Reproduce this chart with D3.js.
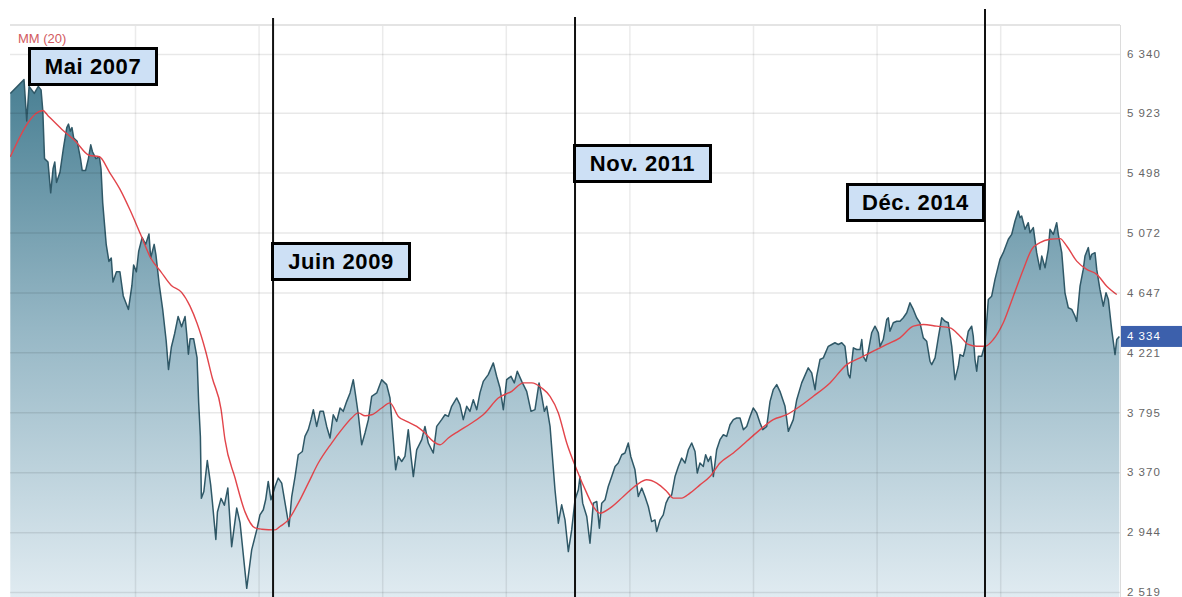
<!DOCTYPE html>
<html><head><meta charset="utf-8">
<script src="https://cdn.jsdelivr.net/npm/d3@7"></script>
<style>html,body{margin:0;padding:0;background:#fff;overflow:hidden}</style>
</head><body><svg id="c" width="1182" height="597"></svg>
<script>
// ---- DATA ----
const years = [
2006.991,2007.102,2007.124,2007.143,2007.185,2007.218,2007.240,2007.254,2007.268,2007.296,
2007.318,2007.337,2007.351,2007.365,2007.393,2007.421,2007.448,2007.462,2007.476,2007.490,
2007.504,2007.532,2007.559,2007.573,2007.600,2007.623,2007.642,2007.656,2007.684,2007.712,
2007.725,2007.739,2007.767,2007.789,2007.808,2007.822,2007.850,2007.878,2007.905,2007.947,
2007.975,2007.989,2008.011,2008.030,2008.058,2008.086,2008.113,2008.127,2008.155,2008.169,
2008.197,2008.224,2008.252,2008.271,2008.294,2008.321,2008.349,2008.377,2008.405,2008.418,
2008.432,2008.446,2008.474,2008.502,2008.515,2008.529,2008.537,2008.557,2008.585,2008.612,
2008.626,2008.654,2008.667,2008.696,2008.723,2008.751,2008.782,2008.823,2008.850,2008.904,
2008.944,2008.985,2009.011,2009.038,2009.057,2009.078,2009.100,2009.133,2009.159,2009.187,
2009.219,2009.246,2009.268,2009.295,2009.321,2009.354,2009.375,2009.402,2009.424,2009.443,
2009.470,2009.497,2009.524,2009.551,2009.578,2009.604,2009.632,2009.659,2009.685,2009.713,
2009.740,2009.766,2009.786,2009.807,2009.834,2009.861,2009.888,2009.915,2009.956,2009.996,
2010.036,2010.063,2010.090,2010.109,2010.130,2010.158,2010.184,2010.211,2010.233,2010.252,
2010.279,2010.320,2010.346,2010.373,2010.413,2010.441,2010.481,2010.508,2010.535,2010.562,
2010.603,2010.629,2010.656,2010.684,2010.710,2010.737,2010.765,2010.791,2010.818,2010.858,
2010.899,2010.926,2010.953,2010.980,2011.007,2011.042,2011.069,2011.093,2011.129,2011.169,
2011.204,2011.236,2011.269,2011.291,2011.312,2011.331,2011.358,2011.398,2011.425,2011.452,
2011.479,2011.506,2011.533,2011.560,2011.587,2011.600,2011.622,2011.655,2011.681,2011.708,
2011.736,2011.757,2011.776,2011.803,2011.829,2011.857,2011.884,2011.910,2011.938,2011.964,
2011.991,2012.011,2012.045,2012.072,2012.100,2012.126,2012.153,2012.180,2012.207,2012.221,
2012.248,2012.274,2012.296,2012.315,2012.342,2012.369,2012.396,2012.423,2012.450,2012.477,
2012.504,2012.531,2012.549,2012.571,2012.598,2012.617,2012.638,2012.658,2012.679,2012.706,
2012.733,2012.760,2012.787,2012.814,2012.841,2012.868,2012.895,2012.922,2012.949,2012.976,
2013.002,2013.030,2013.057,2013.079,2013.111,2013.138,2013.164,2013.192,2013.218,2013.259,
2013.286,2013.326,2013.354,2013.394,2013.447,2013.475,2013.502,2013.515,2013.542,2013.569,
2013.609,2013.637,2013.663,2013.690,2013.718,2013.744,2013.771,2013.785,2013.812,2013.839,
2013.866,2013.880,2013.892,2013.914,2013.933,2013.960,2013.987,2014.014,2014.028,2014.054,
2014.082,2014.095,2014.108,2014.135,2014.163,2014.189,2014.216,2014.244,2014.270,2014.297,
2014.324,2014.351,2014.378,2014.405,2014.432,2014.446,2014.473,2014.499,2014.527,2014.553,
2014.580,2014.608,2014.621,2014.634,2014.661,2014.675,2014.701,2014.715,2014.742,2014.769,
2014.782,2014.796,2014.810,2014.823,2014.850,2014.877,2014.904,2014.931,2014.958,2014.998,
2015.025,2015.066,2015.093,2015.120,2015.146,2015.160,2015.174,2015.201,2015.227,2015.241,
2015.268,2015.295,2015.322,2015.336,2015.363,2015.389,2015.403,2015.430,2015.457,2015.470,
2015.498,2015.524,2015.551,2015.579,2015.605,2015.619,2015.646,2015.672,2015.686,2015.713,
2015.727,2015.740,2015.767,2015.781,2015.807,2015.834,2015.856,2015.875,2015.902,2015.929,
2015.943,2015.964
];
const closes = [
6060,6158,5865,6110,6060,6110,6085,5939,5597,5573,
5354,5525,5573,5427,5500,5671,5817,5842,5792,5817,
5744,5720,5597,5512,5512,5597,5695,5646,5597,5610,
5525,5281,4988,4867,4891,4720,4793,4793,4622,4526,
4696,4842,4793,4940,5037,4988,5061,4891,4988,4915,
4696,4526,4305,4099,4257,4355,4476,4403,4476,4355,
4208,4318,4318,4184,3867,3623,3184,3233,3453,3282,
3159,2892,3087,3184,3135,3258,2841,3115,3010,2545,
2818,2960,3067,3103,3174,3304,3174,3268,3328,3292,
3126,2984,3197,3339,3494,3517,3624,3672,3743,3814,
3695,3802,3802,3695,3613,3778,3731,3826,3802,3873,
3933,4027,3909,3778,3565,3648,3743,3909,3933,4027,
3992,3897,3601,3387,3482,3446,3482,3672,3482,3339,
3529,3601,3695,3577,3506,3695,3743,3778,3766,3838,
3897,3850,3743,3838,3802,3885,3814,3933,4015,4063,
4146,4051,3968,3814,4027,4051,4004,4087,4015,3944,
3802,3814,4004,3909,3802,3838,3695,3245,3008,3138,
3031,2806,2960,3174,3245,3339,3150,3055,2866,3150,
3162,2972,3150,3174,3268,3339,3411,3435,3494,3506,
3577,3482,3387,3197,3257,3197,3126,3019,3031,2948,
3031,3067,3150,3186,3209,3339,3411,3470,3435,3529,
3577,3517,3364,3435,3411,3494,3446,3482,3339,3529,
3601,3636,3624,3707,3743,3755,3755,3672,3695,3766,
3826,3791,3719,3672,3695,3873,3956,3992,3944,3838,
3660,3743,3885,4004,4111,4075,3956,4051,4170,4182,
4264,4277,4289,4277,4289,4264,4063,4040,4253,4241,
4241,4312,4193,4158,4229,4360,4407,4360,4264,4312,
4454,4467,4371,4431,4442,4442,4467,4502,4573,4526,
4467,4431,4324,4300,4158,4134,4182,4324,4467,4442,
4431,4264,4146,4027,4122,4205,4193,4241,4371,4407,
4336,4170,4087,4193,4193,4277,4597,4620,4739,4881,
4929,5024,5059,5154,5225,5178,5189,5095,5142,5071,
5107,4929,4810,4905,4822,4953,5095,5059,5142,5059,
4929,4644,4538,4526,4478,4442,4691,4810,4905,4965,
4881,4917,4929,4810,4668,4549,4644,4597,4383,4205,
4312,4334
];
const maYears = [
2006.991,2007.254,2007.296,2007.407,2007.518,2007.628,2007.712,2007.794,2007.879,2007.960,
2008.044,2008.127,2008.210,2008.294,2008.377,2008.445,2008.502,2008.570,2008.626,2008.696,
2008.728,2008.809,2008.890,2008.971,2009.025,2009.133,2009.173,2009.240,2009.321,2009.402,
2009.483,2009.591,2009.672,2009.753,2009.807,2009.861,2009.915,2009.996,2010.063,2010.130,
2010.198,2010.279,2010.346,2010.413,2010.468,2010.535,2010.616,2010.724,2010.832,2010.939,
2011.048,2011.142,2011.210,2011.291,2011.358,2011.425,2011.493,2011.574,2011.655,2011.708,
2011.762,2011.843,2011.951,2012.059,2012.140,2012.221,2012.302,2012.355,2012.423,2012.490,
2012.571,2012.652,2012.733,2012.841,2012.949,2013.057,2013.164,2013.273,2013.380,2013.488,
2013.623,2013.758,2013.866,2013.973,2014.082,2014.189,2014.297,2014.378,2014.486,2014.594,
2014.675,2014.742,2014.810,2014.877,2014.944,2015.025,2015.106,2015.187,2015.255,2015.322,
2015.403,2015.484,2015.538,2015.619,2015.700,2015.781,2015.862,2015.943
];
const maValues = [
5610,5939,5902,5806,5721,5621,5610,5500,5379,5232,
5061,4891,4793,4696,4647,4549,4427,4234,4037,3818,
3601,3330,3088,2974,2965,2960,2984,3031,3150,3292,
3435,3577,3672,3755,3791,3771,3778,3826,3862,3766,
3731,3695,3648,3589,3565,3613,3660,3719,3791,3897,
3944,4004,4004,3968,3909,3791,3577,3387,3221,3126,
3079,3115,3197,3280,3316,3292,3233,3186,3186,3221,
3280,3339,3435,3506,3589,3672,3743,3778,3838,3909,
4004,4134,4182,4229,4277,4324,4407,4419,4407,4395,
4336,4277,4264,4264,4312,4431,4620,4810,4953,5000,
5024,5029,4976,4869,4810,4775,4691,4632
];
const yTicks = [2519, 2944, 3370, 3795, 4221, 4647, 5072, 5498, 5923, 6340];
const yTickLabels = ["2 519","2 944","3 370","3 795","4 221","4 647","5 072","5 498","5 923","6 340"];
const gridYears = [2008, 2009, 2010, 2011, 2012, 2013, 2014, 2015];
const lastValue = 4334;
const lastLabel = "4 334";
const legendLabel = "MM (20)";
const annotationLabels = ["Mai 2007", "Juin 2009", "Nov. 2011", "Déc. 2014"];
const annotationYears = [null, 2009.117, 2011.560, 2014.877];

// ---- LAYOUT ----
const P = {left: 10, right: 1120, top: 25, bottom: 597};
const boxes = [
  {x: 28, y: 47, w: 130, h: 39},
  {x: 271, y: 242, w: 140, h: 39},
  {x: 573, y: 144, w: 139, h: 39},
  {x: 846, y: 183, w: 139, h: 39}
];
const lineTops = [null, 18, 17, 9];

const x = d3.scaleLinear().domain([2007, 2016]).range([11.4, 1123.8]);
const y = d3.scaleLinear().domain([2519, 6340]).range([592, 54]);

const svg = d3.select('#c');
svg.append('rect').attr('width', 1182).attr('height', 597).attr('fill', '#fff');
const defs = svg.append('defs');
defs.append('clipPath').attr('id', 'clip').append('rect')
  .attr('x', P.left).attr('y', P.top).attr('width', P.right - P.left).attr('height', P.bottom - P.top);
const g = defs.append('linearGradient').attr('id', 'fillg')
  .attr('gradientUnits', 'userSpaceOnUse').attr('x1', 0).attr('x2', 0).attr('y1', 60).attr('y2', 597);
g.append('stop').attr('offset', 0).attr('stop-color', '#437b8f');
g.append('stop').attr('offset', 0.5).attr('stop-color', '#96b7c5');
g.append('stop').attr('offset', 1).attr('stop-color', '#e0ebf1');

const series = years.map((t, i) => ({t, v: closes[i]}));
const maSeries = maYears.map((t, i) => ({t, v: maValues[i]}));

const plot = svg.append('g').attr('clip-path', 'url(#clip)');
plot.append('path').datum(series)
  .attr('d', d3.area().x(d => x(d.t)).y0(P.bottom).y1(d => y(d.v)))
  .attr('fill', 'url(#fillg)');

// grid
const hg = svg.append('g').attr('transform', `translate(${P.left},0)`)
  .call(d3.axisLeft(y).tickValues(yTicks).tickSize(-(P.right - P.left)).tickFormat(''));
hg.select('.domain').remove();
hg.selectAll('line').attr('stroke', '#000').attr('stroke-opacity', 0.09).attr('stroke-width', 1.5);
const vg = svg.append('g').attr('transform', `translate(0,${P.bottom})`)
  .call(d3.axisBottom(x).tickValues(gridYears).tickSize(-(P.bottom - P.top)).tickFormat(''));
vg.select('.domain').remove();
vg.selectAll('line').attr('stroke', '#000').attr('stroke-opacity', 0.08).attr('stroke-width', 1.5);

// borders
svg.append('line').attr('x1', P.left).attr('x2', P.right).attr('y1', P.top).attr('y2', P.top)
  .attr('stroke', '#e4e4e4').attr('stroke-width', 2);
svg.append('line').attr('x1', P.right + 0.5).attr('x2', P.right + 0.5).attr('y1', P.top).attr('y2', P.bottom)
  .attr('stroke', '#dcdcdc').attr('stroke-width', 1);

plot.append('path').datum(series)
  .attr('d', d3.line().x(d => x(d.t)).y(d => y(d.v)))
  .attr('fill', 'none').attr('stroke', '#2f5867').attr('stroke-width', 1.5).attr('stroke-linejoin', 'round');
plot.append('path').datum(maSeries)
  .attr('d', d3.line().curve(d3.curveMonotoneX).x(d => x(d.t)).y(d => y(d.v)))
  .attr('fill', 'none').attr('stroke', '#e2454b').attr('stroke-width', 1.4);

// y labels
const ya = svg.append('g').attr('transform', `translate(${P.right},0)`)
  .call(d3.axisRight(y).tickValues(yTicks).tickSize(0).tickPadding(7).tickFormat((d, i) => yTickLabels[i]));
ya.select('.domain').remove();
ya.selectAll('text').attr('fill', '#666').attr('font-size', 11.5).attr('letter-spacing', '1px')
  .attr('font-family', 'Liberation Sans, Arial, sans-serif');

// last value badge
const by = y(lastValue);
svg.append('rect').attr('x', P.right + 1).attr('y', by - 10.5).attr('width', 1182 - P.right - 1).attr('height', 21)
  .attr('fill', '#3c60ac');
svg.append('text').attr('x', P.right + 7).attr('y', by).attr('dy', '0.35em').text(lastLabel)
  .attr('fill', '#fff').attr('font-size', 11.5).attr('letter-spacing', '1px')
  .attr('font-family', 'Liberation Sans, Arial, sans-serif');

// legend
svg.append('text').attr('x', 18).attr('y', 43).text(legendLabel)
  .attr('fill', '#d25a60').attr('font-size', 13).attr('font-family', 'Liberation Sans, Arial, sans-serif');

// annotations
annotationYears.forEach((t, i) => {
  if (t === null) return;
  svg.append('line').attr('x1', x(t)).attr('x2', x(t)).attr('y1', lineTops[i]).attr('y2', P.bottom)
    .attr('stroke', '#111').attr('stroke-width', 2);
});
annotationLabels.forEach((lab, i) => {
  const b = boxes[i];
  svg.append('rect').attr('x', b.x + 1.5).attr('y', b.y + 1.5).attr('width', b.w - 3).attr('height', b.h - 3)
    .attr('fill', '#cde0f5').attr('stroke', '#000').attr('stroke-width', 3);
  svg.append('text').attr('x', b.x + b.w / 2).attr('y', b.y + b.h / 2).attr('dy', '0.36em')
    .attr('text-anchor', 'middle').text(lab)
    .attr('font-family', 'Liberation Sans, Arial, sans-serif').attr('font-weight', 'bold')
    .attr('font-size', 22).attr('letter-spacing', '0.6px').attr('fill', '#000');
});
</script></body></html>
